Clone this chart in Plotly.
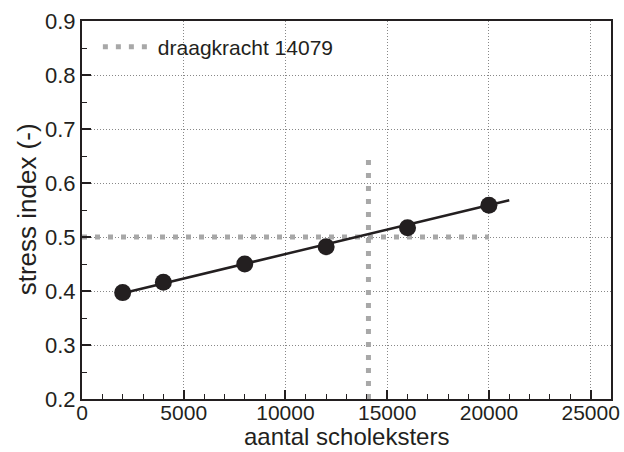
import plotly.graph_objects as go

# data
birds = [2000, 4000, 8000, 12000, 16000, 20000]
stress = [0.397, 0.416, 0.450, 0.482, 0.517, 0.559]
fit_x = [2000, 21000]
fit_y = [0.396, 0.568]
capacity = 14079
threshold = 0.5
thr_x = [0, 20000]
cap_y = [0.2, 0.65]

x_ticks = [0, 5000, 10000, 15000, 20000, 25000]
y_ticks = [0.2, 0.3, 0.4, 0.5, 0.6, 0.7, 0.8, 0.9]

dark = "#231f20"
gray = "#a8a8a8"
font = "Liberation Sans, Arial, sans-serif"

fig = go.Figure()
fig.add_trace(go.Scatter(x=thr_x, y=[threshold, threshold], mode="lines",
                         line=dict(color=gray, width=5, dash="5px,8px"),
                         showlegend=False, hoverinfo="skip"))
fig.add_trace(go.Scatter(x=[capacity, capacity], y=cap_y, mode="lines",
                         line=dict(color=gray, width=5, dash="5px,8px"),
                         name="draagkracht 14079"))
fig.add_trace(go.Scatter(x=fit_x, y=fit_y, mode="lines",
                         line=dict(color=dark, width=2.5), showlegend=False))
fig.add_trace(go.Scatter(x=birds, y=stress, mode="markers",
                         marker=dict(color=dark, size=17), showlegend=False))

fig.update_layout(
    width=624, height=452,
    margin=dict(l=82, r=13, t=21, b=53),
    paper_bgcolor="white", plot_bgcolor="white",
    font=dict(family=font, color=dark),
    legend=dict(x=0.03, y=0.985, xanchor="left", yanchor="top", itemwidth=50,
                bgcolor="rgba(0,0,0,0)", font=dict(size=21, family=font, color=dark)),
    xaxis=dict(range=[0, 26000], tickvals=x_ticks, ticktext=[str(v) for v in x_ticks],
               automargin=False, ticklabelstandoff=-6,
               showline=True, linecolor=dark, linewidth=2, mirror=True,
               ticks="inside", ticklen=9, tickwidth=1.5, tickcolor=dark,
               minor=dict(dtick=1000, tick0=0, ticks="inside", ticklen=5, tickcolor=dark, tickwidth=1.2, showgrid=False),
               showgrid=True, gridcolor="#888", griddash="1px,2px", gridwidth=1,
               zeroline=False,
               tickfont=dict(size=21, family=font, color=dark)),
    yaxis=dict(range=[0.2, 0.9], tickvals=y_ticks, ticktext=[f"{v:.1f}" for v in y_ticks],
               automargin=False,
               showline=True, linecolor=dark, linewidth=2, mirror=True,
               ticks="inside", ticklen=9, tickwidth=1.5, tickcolor=dark,
               minor=dict(dtick=0.05, tick0=0.2, ticks="inside", ticklen=5, tickcolor=dark, tickwidth=1.2, showgrid=False),
               showgrid=True, gridcolor="#888", griddash="1px,2px", gridwidth=1,
               zeroline=False,
               tickfont=dict(size=22, family=font, color=dark)),
    annotations=[
        dict(text="aantal scholeksters", xref="paper", yref="paper", x=0.5, y=-0.14,
             xanchor="center", yanchor="bottom", showarrow=False,
             font=dict(size=24, family=font, color=dark)),
        dict(text="stress index (-)", xref="paper", yref="paper", x=-0.105, y=0.503,
             xanchor="center", yanchor="middle", showarrow=False, textangle=-90,
             font=dict(size=26, family=font, color=dark)),
    ],
)

fig.write_html("out.html", config={"displayModeBar": False},
               post_script="document.body.style.margin='0';document.body.style.padding='0';")
